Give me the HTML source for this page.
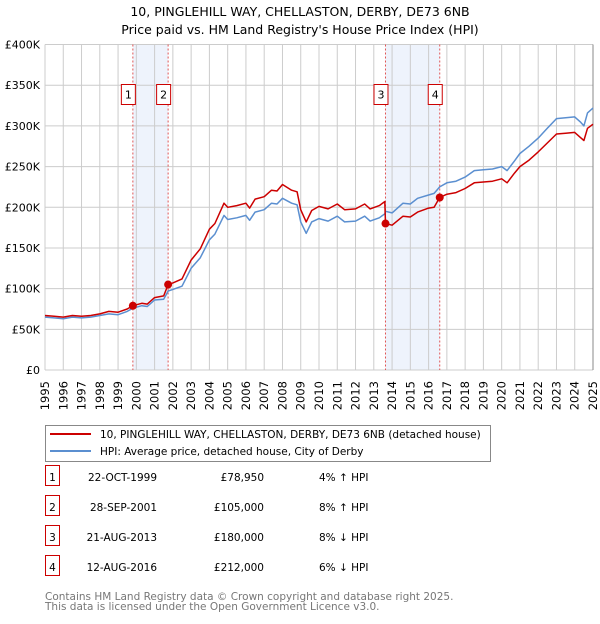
<!DOCTYPE html>
<html><head><meta charset="utf-8"><style>
body{margin:0;background:#fff;font-family:"DejaVu Sans","Liberation Sans",sans-serif;}
svg text{font-family:"DejaVu Sans","Liberation Sans",sans-serif;}
</style></head><body>
<svg id="chart" width="600" height="620" xmlns="http://www.w3.org/2000/svg">
<text x="300" y="16" text-anchor="middle" font-size="12.5">10, PINGLEHILL WAY, CHELLASTON, DERBY, DE73 6NB</text>
<text x="300" y="34" text-anchor="middle" font-size="12.5">Price paid vs. HM Land Registry's House Price Index (HPI)</text>
<g id="plot"></g>
<g>
<rect x="45.5" y="425.5" width="445" height="36" fill="#fff" stroke="#888"/>
<line x1="50" y1="434" x2="91" y2="434" stroke="#cc0000" stroke-width="2"/>
<text x="100" y="438" font-size="10.5">10, PINGLEHILL WAY, CHELLASTON, DERBY, DE73 6NB (detached house)</text>
<line x1="50" y1="451" x2="91" y2="451" stroke="#5b8fd0" stroke-width="2"/>
<text x="100" y="455" font-size="10.5">HPI: Average price, detached house, City of Derby</text>
</g>
<g id="table"></g>
<text x="45" y="600" font-size="10.5" fill="#777">Contains HM Land Registry data © Crown copyright and database right 2025.</text>
<text x="45" y="610" font-size="10.5" fill="#777">This data is licensed under the Open Government Licence v3.0.</text>
</svg>
<script>
const years=[1995.0,1995.5,1996.0,1996.5,1997.0,1997.5,1998.0,1998.5,1999.0,1999.5,1999.81,2000.3,2000.6,2001.0,2001.5,2001.74,2002.0,2002.5,2003.0,2003.5,2004.0,2004.3,2004.8,2005.0,2005.5,2006.0,2006.2,2006.5,2007.0,2007.4,2007.7,2008.0,2008.5,2008.8,2009.0,2009.3,2009.6,2010.0,2010.5,2011.0,2011.4,2012.0,2012.5,2012.8,2013.3,2013.6,2013.64,2014.0,2014.6,2015.0,2015.4,2016.0,2016.3,2016.61,2017.0,2017.5,2018.0,2018.5,2019.0,2019.5,2020.0,2020.3,2020.7,2021.0,2021.5,2022.0,2022.5,2023.0,2023.5,2024.0,2024.3,2024.5,2024.7,2025.0];
const hpi=[65,64,63,65,64,65,67,69,68,72,76,79,78,86,87,97,99,103,125,138,160,167,190,185,187,190,184,194,197,205,204,211,205,203,182,168,182,186,183,189,182,183,189,183,187,192,195,193,205,204,211,215,217,225,230,232,237,245,246,247,250,245,257,266,275,285,297,309,310,311,305,300,316,322];
const price=[67,66,65,67,66,67,69,72,71,75,79,82,81,89,91,105,107,112,135,149,173,180,205,200,202,205,199,210,213,221,220,228,221,219,197,182,196,201,198,204,197,198,204,198,202,207,180,178,189,188,194,199,200,212,216,218,223,230,231,232,235,230,242,250,258,268,279,290,291,292,286,282,297,302];
const saleYears=[1999.81,2001.74,2013.64,2016.61];
const saleValues=[78.95,105,180,212];
const saleLabels=["1","2","3","4"];
const saleDates=["22-OCT-1999","28-SEP-2001","21-AUG-2013","12-AUG-2016"];
const salePrices=["£78,950","£105,000","£180,000","£212,000"];
const saleHpi=["4% ↑ HPI","8% ↑ HPI","8% ↓ HPI","6% ↓ HPI"];
const yTicks=[0,50,100,150,200,250,300,350,400];
const yTickLabels=["£0","£50K","£100K","£150K","£200K","£250K","£300K","£350K","£400K"];
const X0=45,X1=593,Y0=370,Y1=44.5;
const xs=y=>X0+(y-1995)/30*(X1-X0);
const ys=v=>Y0-v/400*(Y0-Y1);
const NS="http://www.w3.org/2000/svg";
const plot=document.getElementById('plot');
function mk(tag,attrs,parent){const e=document.createElementNS(NS,tag);for(const k in attrs)e.setAttribute(k,attrs[k]);(parent||plot).appendChild(e);return e;}
for(let i=0;i<4;i+=2){const r=mk('rect',{x:xs(saleYears[i]),y:Y1,width:xs(saleYears[i+1])-xs(saleYears[i]),height:Y0-Y1,fill:'#eef3fc'});

}
for(let y=1995;y<=2025;y++){const l=mk('line',{x1:xs(y),x2:xs(y),y1:Y1,y2:Y0,stroke:'#cccccc','stroke-width':1});


const t=mk('text',{x:0,y:0,'font-size':11.5,'text-anchor':'end',transform:`translate(${xs(y)+4},${Y0+11}) rotate(-90)`});
t.textContent=y;

}
yTicks.forEach((v,i)=>{const l=mk('line',{x1:X0,x2:X1,y1:ys(v),y2:ys(v),stroke:'#cccccc','stroke-width':1});


const t=mk('text',{x:40,y:ys(v)+4,'font-size':11,'text-anchor':'end'});
t.textContent=yTickLabels[i];

});
const edge=mk('line',{x1:X1,x2:X1,y1:Y1,y2:Y0,stroke:'#888','stroke-width':1});


saleYears.forEach((sy,i)=>{const x=xs(sy);
const l=mk('line',{x1:x,x2:x,y1:Y1,y2:Y0,stroke:'#e05555','stroke-width':1,'stroke-dasharray':'2,2'});


const g=mk('g',{});


mk('rect',{x:x-11.5,y:84.5,width:14,height:20,fill:'#fff',stroke:'#cc0000'},g);
const t=mk('text',{x:x-4.5,y:98.5,'font-size':11,'text-anchor':'middle'},g);t.textContent=saleLabels[i];});
function path(vals,color,name){const d=years.map((y,i)=>(i?'L':'M')+xs(y).toFixed(1)+','+ys(vals[i]).toFixed(1)).join('');
const p=mk('path',{d:d,fill:'none',stroke:color,'stroke-width':1.5,'stroke-linejoin':'round'});

}
path(hpi,'#5b8fd0','hpi-line');
path(price,'#cc0000','price-paid-line');
saleYears.forEach((sy,i)=>{const c=mk('circle',{cx:xs(sy),cy:ys(saleValues[i]),r:4,fill:'#cc0000'});

});
const tb=document.getElementById('table');
saleLabels.forEach((lab,i)=>{const y=483+i*30;
const r=mk('rect',{x:45.5,y:y-17.5,width:14,height:20,fill:'#fff',stroke:'#cc0000'},tb);


const t0=mk('text',{x:52.5,y:y-2,'font-size':10.5,'text-anchor':'middle'},tb);t0.textContent=lab;
const t1=mk('text',{x:157,y:y-2,'font-size':10.5,'text-anchor':'end'},tb);t1.textContent=saleDates[i];


const t2=mk('text',{x:264,y:y-2,'font-size':10.5,'text-anchor':'end'},tb);t2.textContent=salePrices[i];


const t3=mk('text',{x:319,y:y-2,'font-size':10.5},tb);t3.textContent=saleHpi[i];

});
</script>
</body></html>
